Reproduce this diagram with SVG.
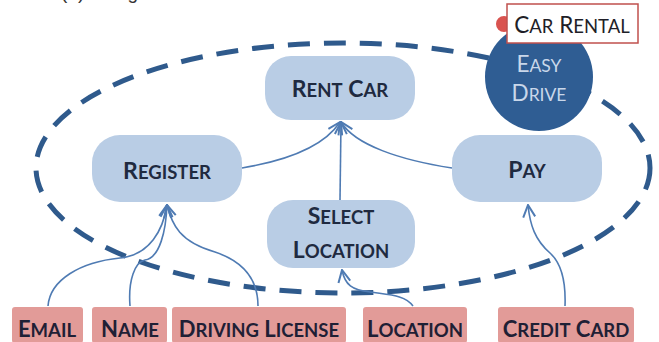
<svg xmlns="http://www.w3.org/2000/svg" width="659" height="342" viewBox="0 0 659 342">
<defs>
<marker id="arr" viewBox="0 0 14 14" refX="13" refY="7" markerWidth="14" markerHeight="14" markerUnits="userSpaceOnUse" orient="auto">
<path d="M1,1 L13,7 L1,13" fill="none" stroke="#4f7bb3" stroke-width="2"/>
</marker>
</defs>
<style>
.node{fill:#b9cde5}
.nt{font-family:Lato,"Open Sans",sans-serif;font-weight:bold;font-size:23px;fill:#1f2a40;text-anchor:middle}
.nt .s{font-size:18.5px}
.inp{fill:#e29b98}
.it{font-family:Lato,"Open Sans",sans-serif;font-weight:bold;font-size:22px;fill:#1f2035;text-anchor:middle}
.it .s{font-size:18.5px}
.s{font-size:17.5px}
.lt{font-family:Lato,"Open Sans",sans-serif;font-size:22.5px;text-anchor:middle}
.c{fill:none;stroke:#4f7bb3;stroke-width:1.6}
</style>
<rect width="659" height="342" fill="#ffffff"/>
<text x="61" y="-1.5" font-family="Liberation Sans, sans-serif" font-size="19" fill="#333">(a) Design</text>
<ellipse cx="343" cy="168" rx="307" ry="125" fill="none" stroke="#2f5a8c" stroke-width="5" stroke-dasharray="22 14"/>
<g id="connectors">
<path class="c" d="M242,168 C290,160 325,145 340,122" marker-end="url(#arr)"/>
<path class="c" d="M452,168 C400,160 355,145 341,122" marker-end="url(#arr)"/>
<path class="c" d="M340,200 L341,122" marker-end="url(#arr)"/>
<path class="c" d="M48,306 C50,280 80,262 120,258 C150,255 163,230 167,205" marker-end="url(#arr)"/>
<path class="c" d="M130,306 C128,280 135,262 145,260 C160,258 166,230 167,205" marker-end="url(#arr)"/>
<path class="c" d="M258,306 C258,280 245,262 215,252 C180,242 172,225 167,205" marker-end="url(#arr)"/>
<path class="c" d="M413,306 C405,295 390,295 370,292 C352,290 345,285 342,270" marker-end="url(#arr)"/>
<path class="c" d="M565,306 C566,280 560,262 550,253 C535,240 530,225 528,205" marker-end="url(#arr)"/>
</g>
<g id="rent-car"><rect class="node" x="265" y="56" width="150" height="64" rx="26"/><text class="nt" x="340" y="97">R<tspan class="s">ENT</tspan> C<tspan class="s">AR</tspan></text></g>
<g id="register"><rect class="node" x="92" y="135" width="150" height="67" rx="28"/><text class="nt" x="167" y="179">R<tspan class="s">EGISTER</tspan></text></g>
<g id="pay"><rect class="node" x="452" y="135" width="150" height="67" rx="28"/><text class="nt" x="527" y="178">P<tspan class="s">AY</tspan></text></g>
<g id="select-location"><rect class="node" x="267" y="200" width="148" height="68" rx="26"/><text class="nt" x="341" y="224">S<tspan class="s">ELECT</tspan></text><text class="nt" x="341" y="258">L<tspan class="s">OCATION</tspan></text></g>
<g id="easy-drive"><circle cx="539" cy="77" r="54" fill="#2f5d93"/><text class="lt" x="539" y="72" fill="#c9d7ea">E<tspan class="s">ASY</tspan></text><text class="lt" x="539" y="101" fill="#c9d7ea">D<tspan class="s">RIVE</tspan></text></g>
<g id="car-rental"><circle cx="504" cy="24" r="8" fill="#d9534f"/><rect x="507" y="4" width="131" height="39" fill="#ffffff" stroke="#c0504d" stroke-width="1.5"/><text class="lt" x="572" y="33" fill="#1f1f28" font-size="23.5">C<tspan font-size="18.5">AR</tspan> R<tspan font-size="18.5">ENTAL</tspan></text></g>
<g id="email"><rect class="inp" x="12" y="307" width="71" height="36" rx="3"/><text class="it" x="47" y="337">E<tspan class="s">MAIL</tspan></text></g>
<g id="name"><rect class="inp" x="92" y="307" width="75" height="36" rx="3"/><text class="it" x="130" y="337">N<tspan class="s">AME</tspan></text></g>
<g id="driving-license"><rect class="inp" x="172" y="307" width="174" height="36" rx="3"/><text class="it" x="259" y="337">D<tspan class="s">RIVING</tspan> L<tspan class="s">ICENSE</tspan></text></g>
<g id="location"><rect class="inp" x="363" y="307" width="104" height="36" rx="3"/><text class="it" x="415" y="337">L<tspan class="s">OCATION</tspan></text></g>
<g id="credit-card"><rect class="inp" x="498" y="307" width="136" height="36" rx="3"/><text class="it" x="566" y="337">C<tspan class="s">REDIT</tspan> C<tspan class="s">ARD</tspan></text></g>
</svg>
